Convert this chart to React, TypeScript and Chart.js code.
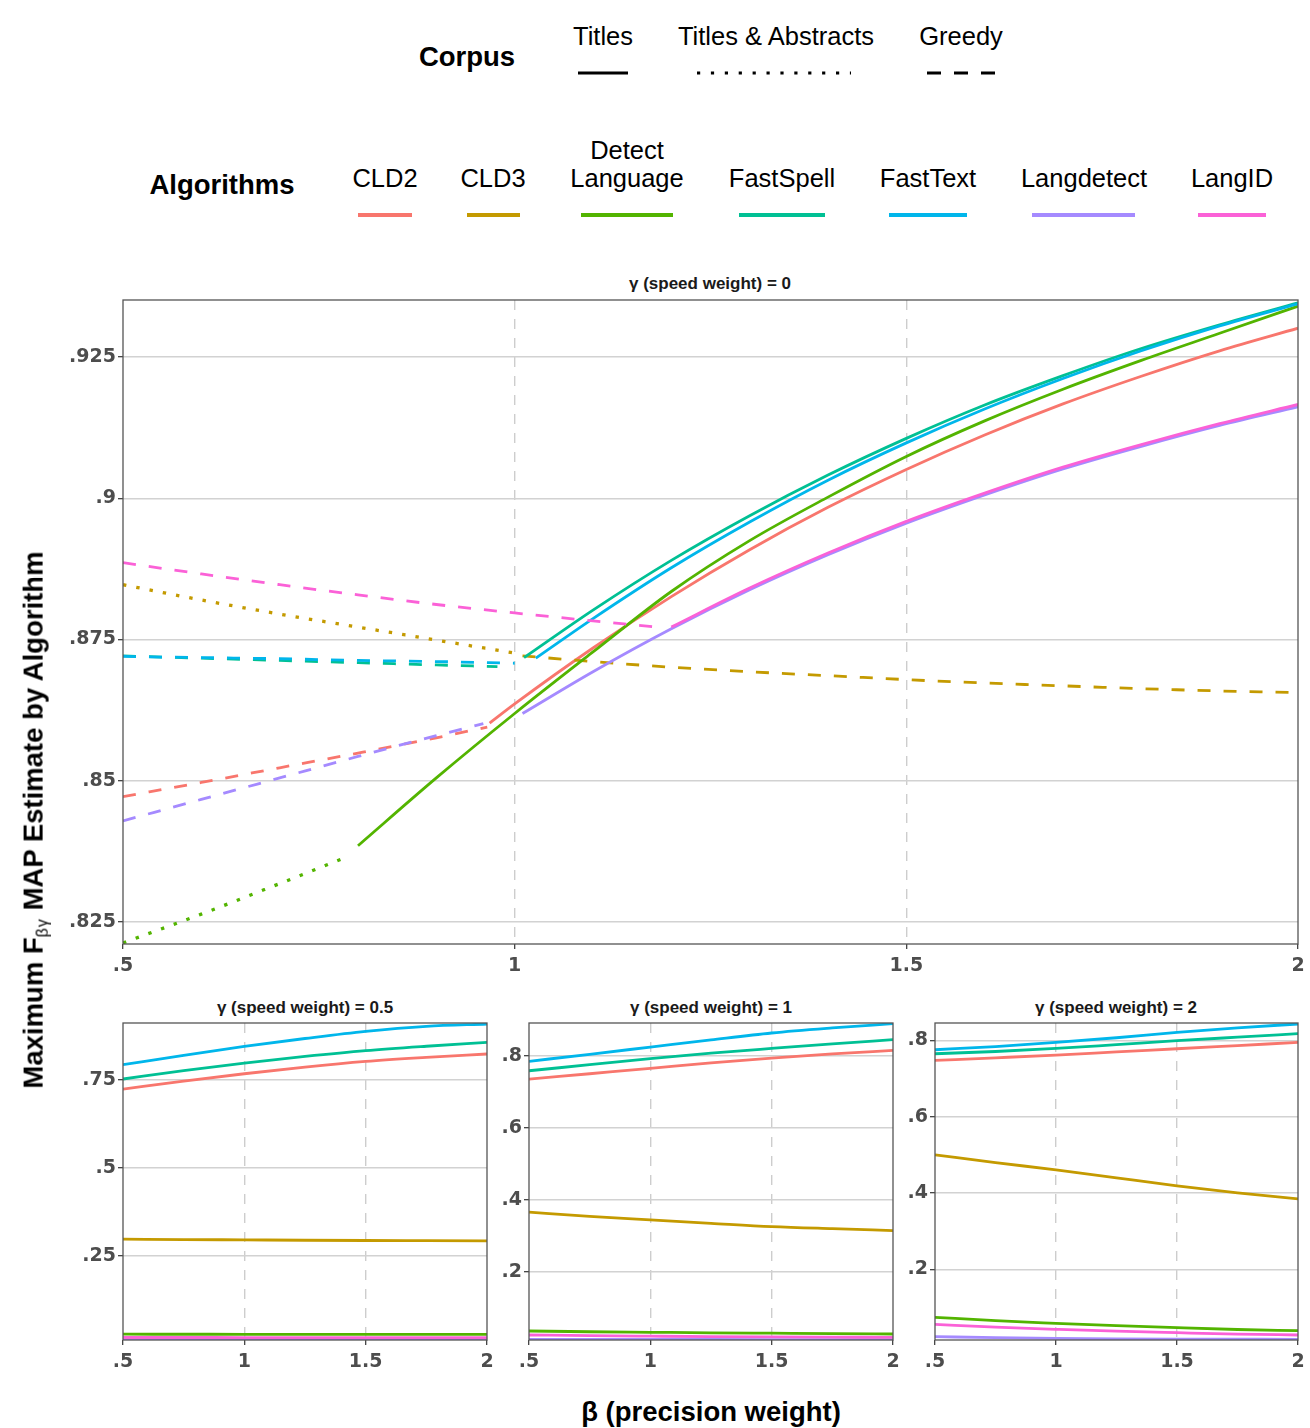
import React, { useEffect, useRef } from 'react';
import { Chart, registerables } from 'chart.js';

Chart.register(...registerables);

// ---- categories & styling keys ----
const ALGORITHMS = ['CLD2', 'CLD3', 'Detect Language', 'FastSpell', 'FastText', 'Langdetect', 'LangID'];
const ALGO_COLORS = ['#F8766D', '#C49A00', '#53B400', '#00C094', '#00B6EB', '#A58AFF', '#FB61D7'];
const CORPORA = ['Titles', 'Titles & Abstracts', 'Greedy'];
const CORPUS_DASH: Record<string, number[]> = {
  'Titles': [],
  'Titles & Abstracts': [3.4, 10.1],
  'Greedy': [13, 13],
};

// ---- axis ticks ----
const betaTicks = [0.5, 1, 1.5, 2];
const betaTickLabels = ['.5', '1', '1.5', '2'];
const gamma0Ticks = [0.825, 0.85, 0.875, 0.9, 0.925];
const gamma0TickLabels = ['.825', '.85', '.875', '.9', '.925'];
const gamma05Ticks = [0.25, 0.5, 0.75];
const gamma05TickLabels = ['.25', '.5', '.75'];
const gamma1Ticks = [0.2, 0.4, 0.6, 0.8];
const gamma1TickLabels = ['.2', '.4', '.6', '.8'];
const gamma2Ticks = [0.2, 0.4, 0.6, 0.8];
const gamma2TickLabels = ['.2', '.4', '.6', '.8'];

// ---- γ = 0 : best corpus per algorithm (segments change line type) ----
const cld2GreedyBeta = [0.5, 0.6, 0.7, 0.8, 0.9, 0.965];
const cld2GreedyF = [0.8472, 0.8497, 0.8523, 0.8549, 0.8576, 0.8595];
const cld2TitlesBeta = [0.968, 1.0, 1.1, 1.2, 1.3, 1.4, 1.5, 1.6, 1.7, 1.8, 1.9, 2.0];
const cld2TitlesF = [0.8602, 0.8636, 0.8735, 0.8826, 0.8909, 0.8984, 0.9051, 0.9112, 0.9167, 0.9216, 0.9261, 0.9301];

const cld3AbstractsBeta = [0.5, 0.6, 0.7, 0.8, 0.9, 1.0];
const cld3AbstractsF = [0.8847, 0.882, 0.8795, 0.8772, 0.8749, 0.8726];
const cld3GreedyBeta = [1.01, 1.1, 1.2, 1.3, 1.4, 1.5, 1.6, 1.7, 1.8, 1.9, 2.0];
const cld3GreedyF = [0.8721, 0.8711, 0.8701, 0.8693, 0.8686, 0.8679, 0.8673, 0.8668, 0.8663, 0.8659, 0.8656];

const detectAbstractsBeta = [0.5, 0.6, 0.7, 0.78];
const detectAbstractsF = [0.8213, 0.8264, 0.8318, 0.8362];
const detectTitlesBeta = [0.8, 0.9, 1.0, 1.1, 1.2, 1.3, 1.4, 1.5, 1.6, 1.7, 1.8, 1.9, 2.0];
const detectTitlesF = [0.8385, 0.8505, 0.8619, 0.8728, 0.8835, 0.8925, 0.9002, 0.9074, 0.9137, 0.9193, 0.9244, 0.9292, 0.934];

const fastSpellGreedyBeta = [0.5, 0.6, 0.7, 0.8, 0.9, 0.978];
const fastSpellGreedyF = [0.8721, 0.8717, 0.8713, 0.8709, 0.8705, 0.8702];
const fastSpellTitlesBeta = [1.012, 1.1, 1.2, 1.3, 1.4, 1.5, 1.6, 1.7, 1.8, 1.9, 2.0];
const fastSpellTitlesF = [0.8718, 0.8802, 0.889, 0.8969, 0.9041, 0.9106, 0.9165, 0.9217, 0.9265, 0.9307, 0.9346];

const fastTextGreedyBeta = [0.5, 0.6, 0.7, 0.8, 0.9, 1.0];
const fastTextGreedyF = [0.872, 0.8718, 0.8716, 0.8713, 0.8711, 0.8708];
const fastTextTitlesBeta = [1.027, 1.1, 1.2, 1.3, 1.4, 1.5, 1.6, 1.7, 1.8, 1.9, 2.0];
const fastTextTitlesF = [0.8717, 0.8787, 0.8877, 0.8958, 0.9032, 0.9098, 0.9158, 0.9212, 0.9261, 0.9305, 0.9344];

const langdetectGreedyBeta = [0.5, 0.6, 0.7, 0.8, 0.9, 0.96];
const langdetectGreedyF = [0.8429, 0.8467, 0.8505, 0.8543, 0.858, 0.8601];
const langdetectTitlesBeta = [1.01, 1.1, 1.2, 1.3, 1.4, 1.5, 1.6, 1.7, 1.8, 1.9, 2.0];
const langdetectTitlesF = [0.8619, 0.8693, 0.8769, 0.8838, 0.89, 0.8956, 0.9006, 0.9052, 0.9092, 0.9129, 0.9162];

const langidGreedyBeta = [0.5, 0.6, 0.7, 0.8, 0.9, 1.0, 1.1, 1.18];
const langidGreedyF = [0.8886, 0.8866, 0.8847, 0.8829, 0.8812, 0.8797, 0.8783, 0.8772];
const langidTitlesBeta = [1.2, 1.3, 1.4, 1.5, 1.6, 1.7, 1.8, 1.9, 2.0];
const langidTitlesF = [0.8772, 0.8841, 0.8903, 0.8959, 0.9009, 0.9055, 0.9095, 0.9132, 0.9166];

// ---- γ > 0 panels (single line per algorithm) ----
const smallBeta = [0.5, 0.75, 1, 1.25, 1.5, 1.75, 2];

const g05Cld2 = [0.7235, 0.746, 0.767, 0.786, 0.802, 0.8135, 0.823];
const g05Cld3 = [0.2974, 0.2965, 0.2955, 0.2945, 0.2938, 0.2932, 0.2926];
const g05Detect = [0.0278, 0.0277, 0.0276, 0.0276, 0.0275, 0.0275, 0.0274];
const g05FastSpell = [0.752, 0.776, 0.7974, 0.816, 0.8324, 0.845, 0.856];
const g05FastText = [0.7926, 0.819, 0.8446, 0.867, 0.8873, 0.9015, 0.9082];
const g05Langdetect = [0.0128, 0.0128, 0.0127, 0.0127, 0.0127, 0.0126, 0.0126];
const g05LangID = [0.0185, 0.0185, 0.0184, 0.0184, 0.0184, 0.0183, 0.0183];

const g1Cld2 = [0.7352, 0.75, 0.7648, 0.78, 0.7935, 0.805, 0.8148];
const g1Cld3 = [0.3657, 0.354, 0.3444, 0.335, 0.3259, 0.32, 0.3148];
const g1Detect = [0.0361, 0.034, 0.0325, 0.031, 0.03, 0.029, 0.0278];
const g1FastSpell = [0.7583, 0.775, 0.7917, 0.807, 0.8203, 0.833, 0.8444];
const g1FastText = [0.7843, 0.804, 0.824, 0.844, 0.863, 0.877, 0.8889];
const g1Langdetect = [0.013, 0.0128, 0.0126, 0.0125, 0.0124, 0.0123, 0.0122];
const g1LangID = [0.025, 0.0232, 0.0218, 0.0205, 0.0196, 0.019, 0.0186];

const g2Cld2 = [0.7476, 0.7545, 0.7617, 0.77, 0.7782, 0.7865, 0.7948];
const g2Cld3 = [0.5004, 0.48, 0.4611, 0.44, 0.4192, 0.401, 0.385];
const g2Detect = [0.075, 0.066, 0.0592, 0.053, 0.0477, 0.043, 0.0398];
const g2FastSpell = [0.7651, 0.771, 0.779, 0.789, 0.7992, 0.8085, 0.8176];
const g2FastText = [0.7756, 0.784, 0.7948, 0.807, 0.821, 0.833, 0.843];
const g2Langdetect = [0.0241, 0.0218, 0.0199, 0.0186, 0.0178, 0.0175, 0.0173];
const g2LangID = [0.0566, 0.049, 0.0435, 0.0385, 0.0346, 0.031, 0.0286];

// ---- dataset builders ----
type Seg = { algo: number; corpus: string; beta: number[]; f: number[] };

const gamma0Segments: Seg[] = [
  { algo: 0, corpus: 'Greedy', beta: cld2GreedyBeta, f: cld2GreedyF },
  { algo: 0, corpus: 'Titles', beta: cld2TitlesBeta, f: cld2TitlesF },
  { algo: 1, corpus: 'Titles & Abstracts', beta: cld3AbstractsBeta, f: cld3AbstractsF },
  { algo: 1, corpus: 'Greedy', beta: cld3GreedyBeta, f: cld3GreedyF },
  { algo: 2, corpus: 'Titles & Abstracts', beta: detectAbstractsBeta, f: detectAbstractsF },
  { algo: 2, corpus: 'Titles', beta: detectTitlesBeta, f: detectTitlesF },
  { algo: 3, corpus: 'Greedy', beta: fastSpellGreedyBeta, f: fastSpellGreedyF },
  { algo: 3, corpus: 'Titles', beta: fastSpellTitlesBeta, f: fastSpellTitlesF },
  { algo: 4, corpus: 'Greedy', beta: fastTextGreedyBeta, f: fastTextGreedyF },
  { algo: 4, corpus: 'Titles', beta: fastTextTitlesBeta, f: fastTextTitlesF },
  { algo: 5, corpus: 'Greedy', beta: langdetectGreedyBeta, f: langdetectGreedyF },
  { algo: 5, corpus: 'Titles', beta: langdetectTitlesBeta, f: langdetectTitlesF },
  { algo: 6, corpus: 'Greedy', beta: langidGreedyBeta, f: langidGreedyF },
  { algo: 6, corpus: 'Titles', beta: langidTitlesBeta, f: langidTitlesF },
];

const gamma05Series = [g05Cld2, g05Cld3, g05Detect, g05FastSpell, g05FastText, g05Langdetect, g05LangID];
const gamma1Series = [g1Cld2, g1Cld3, g1Detect, g1FastSpell, g1FastText, g1Langdetect, g1LangID];
const gamma2Series = [g2Cld2, g2Cld3, g2Detect, g2FastSpell, g2FastText, g2Langdetect, g2LangID];

function lineDataset(algo: number, corpus: string, beta: number[], f: number[], width: number) {
  return {
    label: `${ALGORITHMS[algo]} – ${corpus}`,
    data: beta.map((b, i) => ({ x: b, y: f[i] })),
    borderColor: ALGO_COLORS[algo],
    backgroundColor: ALGO_COLORS[algo],
    borderWidth: corpus === 'Titles & Abstracts' ? width + 0.5 : width,
    borderDash: CORPUS_DASH[corpus],
    borderCapStyle: 'butt',
    fill: false,
    pointRadius: 0,
    cubicInterpolationMode: 'monotone',
    clip: 0,
    order: -algo,
  };
}

const gamma0Datasets = () =>
  gamma0Segments.map((s) => lineDataset(s.algo, s.corpus, s.beta, s.f, 2.8));
const smallDatasets = (series: number[][]) =>
  series.map((f, algo) => lineDataset(algo, 'Titles', smallBeta, f, 2.8));

// ---- drawing helpers ----
const TICK_FONT = { family: '"DejaVu Sans", sans-serif', size: 19, weight: 'bold' as const };
const TEXT_FONT = '"Liberation Sans", Arial, Helvetica, sans-serif';

const panelFrame = {
  id: 'panelFrame',
  afterDatasetsDraw(chart: any) {
    const { ctx, chartArea: a } = chart;
    ctx.save();
    ctx.strokeStyle = '#555555';
    ctx.lineWidth = 1.3;
    ctx.strokeRect(a.left, a.top, a.right - a.left, a.bottom - a.top);
    ctx.restore();
  },
};

type Box = { left: number; top: number; right: number; bottom: number };

// pins the plotting area to a fixed rectangle (canvas coordinates)
function pinArea(area: Box) {
  return {
    id: 'pinArea',
    afterLayout(chart: any) {
      const a = chart.chartArea;
      a.left = area.left;
      a.top = area.top;
      a.right = area.right;
      a.bottom = area.bottom;
      a.width = area.right - area.left;
      a.height = area.bottom - area.top;
      const x = chart.scales.x;
      const xh = x.bottom - x.top;
      x.left = area.left;
      x.right = area.right;
      x.width = area.right - area.left;
      x.top = area.bottom;
      x.bottom = area.bottom + xh;
      x.configure();
      const y = chart.scales.y;
      const yw = y.right - y.left;
      y.right = area.left;
      y.left = area.left - yw;
      y.top = area.top;
      y.bottom = area.bottom;
      y.height = area.bottom - area.top;
      y.configure();
    },
  };
}

type PanelProps = {
  left: number;
  top: number;
  width: number;
  height: number;
  area: Box; // page coordinates of the plotting rectangle
  datasets: any[];
  yMin: number;
  yMax: number;
  yTicks: number[];
  yLabels: string[];
};

function Panel(p: PanelProps) {
  const ref = useRef<HTMLCanvasElement>(null);
  useEffect(() => {
    const local: Box = {
      left: p.area.left - p.left,
      right: p.area.right - p.left,
      top: p.area.top - p.top,
      bottom: p.area.bottom - p.top,
    };
    const chart = new Chart(ref.current as HTMLCanvasElement, {
      type: 'line',
      data: { datasets: p.datasets },
      options: {
        animation: false,
        responsive: false,
        maintainAspectRatio: false,
        devicePixelRatio: 1,
        layout: { padding: { top: 20, right: 20, left: 0, bottom: 0 } },
        plugins: { legend: { display: false }, tooltip: { enabled: false }, title: { display: false } },
        elements: { point: { radius: 0 } },
        scales: {
          x: {
            type: 'linear',
            min: 0.5,
            max: 2,
            bounds: 'data',
            afterBuildTicks: (s: any) => {
              s.ticks = betaTicks.map((v) => ({ value: v }));
            },
            ticks: {
              autoSkip: false,
              maxRotation: 0,
              padding: 6,
              color: '#4d4d4d',
              font: TICK_FONT,
              callback: (_v: any, i: number) => betaTickLabels[i],
            },
            grid: {
              color: (c: any) =>
                c.tick && (c.tick.value === 1 || c.tick.value === 1.5) ? '#cdcdcd' : 'rgba(0,0,0,0)',
              lineWidth: 1.4,
              tickLength: 5,
              tickColor: '#333333',
              tickWidth: 1.2,
            },
            border: { display: false, dash: [10, 9] },
          },
          y: {
            type: 'linear',
            min: p.yMin,
            max: p.yMax,
            bounds: 'data',
            afterBuildTicks: (s: any) => {
              s.ticks = p.yTicks.map((v) => ({ value: v }));
            },
            ticks: {
              autoSkip: false,
              padding: 2,
              color: '#4d4d4d',
              font: TICK_FONT,
              callback: (_v: any, i: number) => p.yLabels[i],
            },
            grid: {
              color: '#d2d2d2',
              lineWidth: 1.4,
              tickLength: 5,
              tickColor: '#333333',
              tickWidth: 1.2,
            },
            border: { display: false },
          },
        },
      } as any,
      plugins: [pinArea(local), panelFrame],
    });
    return () => chart.destroy();
  }, []);
  return (
    <canvas
      ref={ref}
      width={p.width}
      height={p.height}
      style={{ position: 'absolute', left: p.left, top: p.top, width: p.width, height: p.height }}
    />
  );
}

function Label(props: {
  x: number;
  y: number;
  size: number;
  bold?: boolean;
  color?: string;
  children: React.ReactNode;
}) {
  return (
    <div
      style={{
        position: 'absolute',
        left: props.x,
        top: props.y,
        transform: 'translate(-50%, -50%)',
        fontFamily: TEXT_FONT,
        fontSize: props.size,
        fontWeight: props.bold ? 700 : 400,
        color: props.color || '#000',
        whiteSpace: 'nowrap',
        lineHeight: 1,
        textAlign: 'center',
      }}
    >
      {props.children}
    </div>
  );
}

// legend key geometry
const corpusKeyX = [
  [578, 628],
  [697, 851],
  [927, 995],
];
const corpusLabelX = [603, 776, 961];
const algoKeyX = [
  [358, 412],
  [467, 520],
  [581, 673],
  [739, 825],
  [889, 967],
  [1032, 1135],
  [1198, 1266],
];
const algoLabelX = [385, 493, 627, 782, 928, 1084, 1232];

export default function App() {
  const corpusSvgDash = ['', '3.2 10.7', '14 13'];
  return (
    <div style={{ position: 'absolute', left: 0, top: 0, width: 1310, height: 1428, background: '#fff', overflow: 'hidden' }}>
      {/* legends */}
      <Label x={467} y={57} size={27.5} bold>Corpus</Label>
      {CORPORA.map((c, i) => (
        <Label key={c} x={corpusLabelX[i]} y={37} size={25.5}>{c}</Label>
      ))}
      <Label x={222} y={185} size={27.5} bold>Algorithms</Label>
      {ALGORITHMS.map((a, i) =>
        a === 'Detect Language' ? (
          <React.Fragment key={a}>
            <Label x={algoLabelX[i]} y={151} size={25.5}>Detect</Label>
            <Label x={algoLabelX[i]} y={179} size={25.5}>Language</Label>
          </React.Fragment>
        ) : (
          <Label key={a} x={algoLabelX[i]} y={179} size={25.5}>{a}</Label>
        )
      )}
      <svg width={1310} height={240} style={{ position: 'absolute', left: 0, top: 0 }}>
        {CORPORA.map((c, i) => (
          <line
            key={c}
            x1={corpusKeyX[i][0]}
            x2={corpusKeyX[i][1]}
            y1={73}
            y2={73}
            stroke="#000"
            strokeWidth={3.2}
            strokeDasharray={corpusSvgDash[i] || undefined}
          />
        ))}
        {ALGORITHMS.map((a, i) => (
          <line key={a} x1={algoKeyX[i][0]} x2={algoKeyX[i][1]} y1={215} y2={215} stroke={ALGO_COLORS[i]} strokeWidth={4} />
        ))}
      </svg>

      {/* panel strips */}
      <Label x={710} y={283} size={17} bold color="#1a1a1a">γ (speed weight) = 0</Label>
      <Label x={305} y={1007} size={17} bold color="#1a1a1a">γ (speed weight) = 0.5</Label>
      <Label x={711} y={1007} size={17} bold color="#1a1a1a">γ (speed weight) = 1</Label>
      <Label x={1116} y={1007} size={17} bold color="#1a1a1a">γ (speed weight) = 2</Label>

      <Panel
        left={0} top={290} width={1310} height={700}
        area={{ left: 123, top: 300, right: 1298, bottom: 944 }}
        datasets={gamma0Datasets()}
        yMin={0.82111} yMax={0.93509}
        yTicks={gamma0Ticks} yLabels={gamma0TickLabels}
      />
      <Panel
        left={0} top={1013} width={505} height={367}
        area={{ left: 123, top: 1023, right: 487, bottom: 1340 }}
        datasets={smallDatasets(gamma05Series)}
        yMin={0.0114} yMax={0.911}
        yTicks={gamma05Ticks} yLabels={gamma05TickLabels}
      />
      <Panel
        left={490} top={1013} width={421} height={367}
        area={{ left: 529, top: 1023, right: 893, bottom: 1340 }}
        datasets={smallDatasets(gamma1Series)}
        yMin={0.0111} yMax={0.8908}
        yTicks={gamma1Ticks} yLabels={gamma1TickLabels}
      />
      <Panel
        left={896} top={1013} width={414} height={367}
        area={{ left: 935, top: 1023, right: 1298, bottom: 1340 }}
        datasets={smallDatasets(gamma2Series)}
        yMin={0.0155} yMax={0.8456}
        yTicks={gamma2Ticks} yLabels={gamma2TickLabels}
      />

      {/* axis titles */}
      <Label x={711} y={1412} size={27.5} bold>β (precision weight)</Label>
      <div
        style={{
          position: 'absolute',
          left: 35,
          top: 820,
          transform: 'translate(-50%, -50%) rotate(-90deg)',
          fontFamily: TEXT_FONT,
          fontSize: 27.5,
          fontWeight: 700,
          whiteSpace: 'nowrap',
          lineHeight: 1,
          color: '#000',
        }}
      >
        Maximum F
        <sub style={{ fontSize: 16, fontWeight: 400, verticalAlign: '-0.3em', letterSpacing: 1 }}>βγ</sub>
        {' '}MAP Estimate by Algorithm
      </div>
    </div>
  );
}
